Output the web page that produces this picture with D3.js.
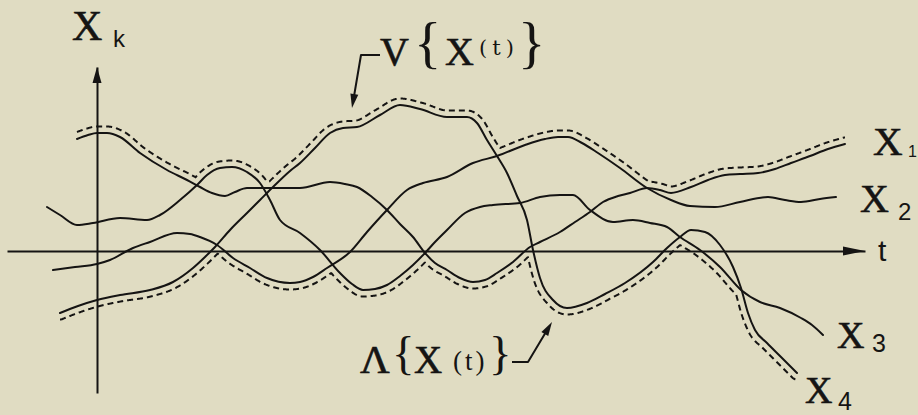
<!DOCTYPE html>
<html>
<head>
<meta charset="utf-8">
<script src="https://cdn.jsdelivr.net/npm/d3@7"></script>
<style>
  html, body { margin: 0; padding: 0; background: #e0dcc2; }
  svg { display: block; }
</style>
</head>
<body>
<svg id="chart" width="918" height="415"></svg>
<script>
// Sample paths X_k(t), each as [t, value] pairs
const x1Points = [[-0.20,2.24],[-0.09,2.32],[0.00,2.36],[0.10,2.36],[0.23,2.28],[0.43,1.96],[0.70,1.62],[0.90,1.42],[1.03,1.28],[1.15,1.16],[1.28,1.10],[1.38,1.18],[1.50,1.26],[1.73,1.26],[2.03,1.26],[2.33,1.38],[2.48,1.34],[2.60,1.28],[2.75,1.08],[2.90,0.82],[3.03,0.54],[3.16,0.28],[3.28,-0.04],[3.38,-0.24],[3.50,-0.38],[3.63,-0.54],[3.76,-0.62],[3.88,-0.58],[4.00,-0.44],[4.16,-0.22],[4.33,0.08],[4.43,0.18],[4.63,0.38],[4.78,0.58],[4.93,0.78],[5.06,0.98],[5.21,1.10],[5.33,1.16],[5.50,1.26],[5.63,1.22],[5.74,1.16],[5.94,1.28],[6.11,1.42],[6.28,1.52],[6.43,1.54],[6.61,1.56],[6.78,1.64],[6.94,1.76],[7.13,1.90],[7.31,2.04],[7.48,2.14]];
const x2Points = [[-0.44,-0.38],[-0.22,-0.32],[0.00,-0.26],[0.13,-0.18],[0.36,0.06],[0.53,0.18],[0.80,0.36],[0.93,0.34],[1.03,0.28],[1.20,0.12],[1.36,-0.14],[1.53,-0.34],[1.70,-0.54],[1.93,-0.64],[2.03,-0.62],[2.16,-0.52],[2.30,-0.34],[2.53,-0.02],[2.70,0.38],[2.90,0.82],[3.10,1.22],[3.26,1.36],[3.50,1.48],[3.76,1.76],[4.00,1.90],[4.28,2.12],[4.48,2.24],[4.61,2.28],[4.71,2.28],[4.85,2.16],[5.01,1.96],[5.23,1.66],[5.50,1.26],[5.74,1.02],[5.93,0.90],[6.18,0.88],[6.43,0.98],[6.71,1.08],[6.88,1.02],[7.04,0.98],[7.23,1.04],[7.39,1.08]];
const x3Points = [[-0.50,0.88],[-0.37,0.72],[-0.20,0.52],[-0.04,0.56],[0.23,0.66],[0.50,0.62],[0.63,0.72],[0.83,1.02],[1.00,1.32],[1.10,1.52],[1.23,1.66],[1.35,1.68],[1.50,1.58],[1.63,1.36],[1.73,1.02],[1.83,0.62],[2.03,0.36],[2.23,0.02],[2.43,-0.44],[2.55,-0.66],[2.66,-0.78],[2.78,-0.76],[2.90,-0.68],[3.03,-0.50],[3.16,-0.28],[3.28,-0.04],[3.38,0.18],[3.50,0.42],[3.68,0.76],[3.83,0.88],[3.96,0.92],[4.23,0.96],[4.43,1.08],[4.63,1.12],[4.76,1.12],[4.93,0.82],[5.16,0.58],[5.36,0.62],[5.53,0.56],[5.70,0.48],[5.83,0.28],[6.03,0.02],[6.23,-0.32],[6.44,-0.78],[6.63,-1.02],[6.83,-1.14],[7.04,-1.34],[7.15,-1.48],[7.26,-1.68]];
const x4Points = [[-0.37,-1.24],[-0.19,-1.10],[0.00,-0.98],[0.23,-0.88],[0.53,-0.78],[0.76,-0.62],[0.96,-0.34],[1.08,-0.12],[1.18,0.08],[1.33,0.42],[1.50,0.76],[1.63,1.02],[1.76,1.28],[1.93,1.60],[2.03,1.76],[2.18,2.06],[2.33,2.36],[2.46,2.46],[2.60,2.48],[2.83,2.72],[3.03,2.92],[3.23,2.84],[3.50,2.68],[3.70,2.68],[3.80,2.56],[3.90,2.22],[4.00,1.90],[4.10,1.56],[4.20,1.10],[4.30,0.62],[4.36,0.02],[4.43,-0.54],[4.56,-0.98],[4.70,-1.14],[4.90,-1.04],[5.08,-0.86],[5.28,-0.64],[5.56,-0.22],[5.70,0.06],[5.83,0.28],[5.94,0.42],[6.08,0.38],[6.23,0.12],[6.36,-0.32],[6.44,-0.74],[6.51,-1.24],[6.58,-1.58],[6.70,-1.84],[6.83,-2.10],[7.00,-2.44]];

const seriesLabels = ["1", "2", "3", "4"];
const tDomain = [-0.9, 7.68];
const valueDomain = [-2.84, 3.68];

const W = 918, H = 415;
const ink = "#151413";
const paper = "#e0dcc2";
const serif = "'Liberation Serif', 'Times New Roman', serif";
const sans = "'Liberation Sans', Arial, sans-serif";

const svg = d3.select("#chart");
svg.append("rect").attr("width", W).attr("height", H).attr("fill", paper);

const x = d3.scaleLinear().domain(tDomain).range([7, 865]);
const y = d3.scaleLinear().domain(valueDomain).range([393, 67]);

// ---- axes (no ticks, arrow tips) ----
svg.append("g").attr("transform", `translate(0,${y(0)})`)
  .call(d3.axisBottom(x).tickValues([]).tickSizeOuter(0));
svg.append("g").attr("transform", `translate(${x(0)},0)`)
  .call(d3.axisLeft(y).tickValues([]).tickSizeOuter(0));
svg.selectAll(".domain").attr("stroke", ink).attr("stroke-width", 2);

function arrowHead(tip, dir, len, half) {
  const [tx, ty] = tip, [dx, dy] = dir;
  const bx = tx - dx * len, by = ty - dy * len;
  const nx = -dy, ny = dx;
  return `M${tx},${ty}L${bx + nx * half},${by + ny * half}L${bx - nx * half},${by - ny * half}Z`;
}
svg.append("path").attr("d", arrowHead([x(tDomain[1]), y(0)], [1, 0], 22, 4.5)).attr("fill", ink);
svg.append("path").attr("d", arrowHead([x(0), y(valueDomain[1])], [0, -1], 16, 4.5)).attr("fill", ink);

// ---- the four paths ----
const line = d3.line().x(d => x(d[0])).y(d => y(d[1])).curve(d3.curveMonotoneX);
const series = [x1Points, x2Points, x3Points, x4Points];
const paths = svg.append("g").selectAll("path").data(series).join("path")
  .attr("d", line)
  .attr("fill", "none")
  .attr("stroke", ink)
  .attr("stroke-width", 2)
  .attr("stroke-linejoin", "round")
  .attr("stroke-linecap", "round");

// ---- upper / lower envelopes of the drawn paths ----
const samples = paths.nodes().map(node => {
  const L = node.getTotalLength();
  const pts = [];
  for (let s = 0; s <= L; s += 0.5) { const p = node.getPointAtLength(s); pts.push([p.x, p.y]); }
  const e = node.getPointAtLength(L); pts.push([e.x, e.y]);
  pts.sort((a, b) => a[0] - b[0]);
  return pts;
});
const bisX = d3.bisector(d => d[0]).left;
function yAt(pts, px) {
  if (px < pts[0][0] - 1e-6 || px > pts[pts.length - 1][0] + 1e-6) return null;
  const i = bisX(pts, px);
  if (i <= 0) return pts[0][1];
  if (i >= pts.length) return pts[pts.length - 1][1];
  const a = pts[i - 1], b = pts[i];
  const f = b[0] === a[0] ? 0 : (px - a[0]) / (b[0] - a[0]);
  return a[1] + f * (b[1] - a[1]);
}
function envelope(better) {
  const starts = samples.map(p => p[0][0]);
  const ends = samples.map(p => p[p.length - 1][0]);
  const c0 = d3.max(starts), c1 = d3.min(ends);
  const extremeAt = px => {
    let best = null, bi = -1;
    samples.forEach((s, i) => {
      const v = yAt(s, px);
      if (v !== null && (best === null || better(v, best))) { best = v; bi = i; }
    });
    return [bi, best];
  };
  const li = extremeAt(c0)[0], ri = extremeAt(c1)[0];
  const step = 0.25, out = [];
  for (let px = starts[li]; px < c0; px += step) out.push([px, yAt(samples[li], px)]);
  for (let px = c0; px <= c1; px += step) out.push([px, extremeAt(px)[1]]);
  for (let px = c1 + step; px <= ends[ri]; px += step) out.push([px, yAt(samples[ri], px)]);
  return out;
}
// parallel curve at distance r (sign -1: above, +1: below)
function offsetCurve(env, r, sign) {
  const out = [];
  const x0 = env[0][0], x1 = env[env.length - 1][0];
  for (let px = x0; px <= x1; px += 0.5) {
    let best = null;
    const j0 = bisX(env, px - r), j1 = bisX(env, px + r);
    for (let j = j0; j < Math.min(j1 + 1, env.length); j++) {
      const dx = env[j][0] - px;
      if (Math.abs(dx) > r) continue;
      const v = env[j][1] + sign * Math.sqrt(r * r - dx * dx);
      if (best === null || (sign < 0 ? v < best : v > best)) best = v;
    }
    out.push([px, best]);
  }
  return out;
}
const upper = offsetCurve(envelope((a, b) => a < b), 6.5, -1);
const lower = offsetCurve(envelope((a, b) => a > b), 6.5, 1);
const dashLine = d3.line();
svg.append("g").selectAll("path").data([upper, lower]).join("path")
  .attr("d", dashLine)
  .attr("fill", "none")
  .attr("stroke", ink)
  .attr("stroke-width", 2)
  .attr("stroke-dasharray", "6,4");

// ---- annotations ----
function addText(str, px, py, size, family, bold) {
  return svg.append("text").attr("x", px).attr("y", py)
    .attr("font-family", family).attr("font-size", size).attr("fill", ink)
    .attr("stroke", ink).attr("stroke-width", bold ? 0.6 : 0)
    .text(str);
}
// spaced "(t)" built from individual glyph positions
function spacedParenT(px, py, size, family, gap) {
  const t = svg.append("text").attr("x", px).attr("y", py)
    .attr("font-family", family).attr("font-size", size).attr("fill", ink);
  ["(", "t", ")"].forEach((ch, i) => {
    t.append("tspan").attr("dx", i === 0 ? 0 : gap).text(ch);
  });
  return t;
}
// axis names
addText("X", 72, 40, 42, serif, true);
addText("k", 113, 47, 24, sans);
addText("t", 878, 261, 30, sans);

// series names at the right-hand ends
const endLabels = [
  { x: 873, y: 155, size: 41, sx: 908, sy: 157, ssize: 16 },
  { x: 860, y: 212, size: 40, sx: 898, sy: 220, ssize: 24 },
  { x: 837, y: 348, size: 38, sx: 872, sy: 352, ssize: 25 },
  { x: 805, y: 403, size: 38, sx: 838, sy: 410, ssize: 25 }
];
endLabels.forEach((d, i) => {
  addText("X", d.x, d.y, d.size, serif, true);
  addText(seriesLabels[i], d.sx, d.sy, d.ssize, sans);
});

// supremum label  V{X(t)}
addText("V", 380, 65, 40, serif, true);
addText("{", 414, 62, 57, serif);
addText("X", 445, 65, 40, serif, true);
spacedParenT(479, 55, 21, "'DejaVu Serif', serif", 5);
addText("}", 518, 62, 57, serif);

// infimum label  Λ{X(t)}
addText("Λ", 360, 373, 41, serif, true);
addText("{", 392, 369, 47, serif);
addText("X", 414, 373, 39, serif, true);
spacedParenT(453, 370, 27, serif, 3);
addText("}", 489, 369, 47, serif);

// leader arrows
function leader(pts) {
  const n = pts.length;
  const [ax, ay] = pts[n - 2], [bx, by] = pts[n - 1];
  const len = Math.hypot(bx - ax, by - ay);
  const dir = [(bx - ax) / len, (by - ay) / len];
  const headLen = 14;
  const shaft = pts.slice(0, n - 1).concat([[bx - dir[0] * headLen * 0.8, by - dir[1] * headLen * 0.8]]);
  svg.append("path").attr("d", d3.line()(shaft))
    .attr("fill", "none").attr("stroke", ink).attr("stroke-width", 2).attr("stroke-linejoin", "round");
  svg.append("path").attr("d", arrowHead([bx, by], dir, headLen, 4)).attr("fill", ink);
}
leader([[380, 55], [361, 55], [352, 108]]);
leader([[512, 362], [528, 362], [552, 322]]);
</script>
</body>
</html>
